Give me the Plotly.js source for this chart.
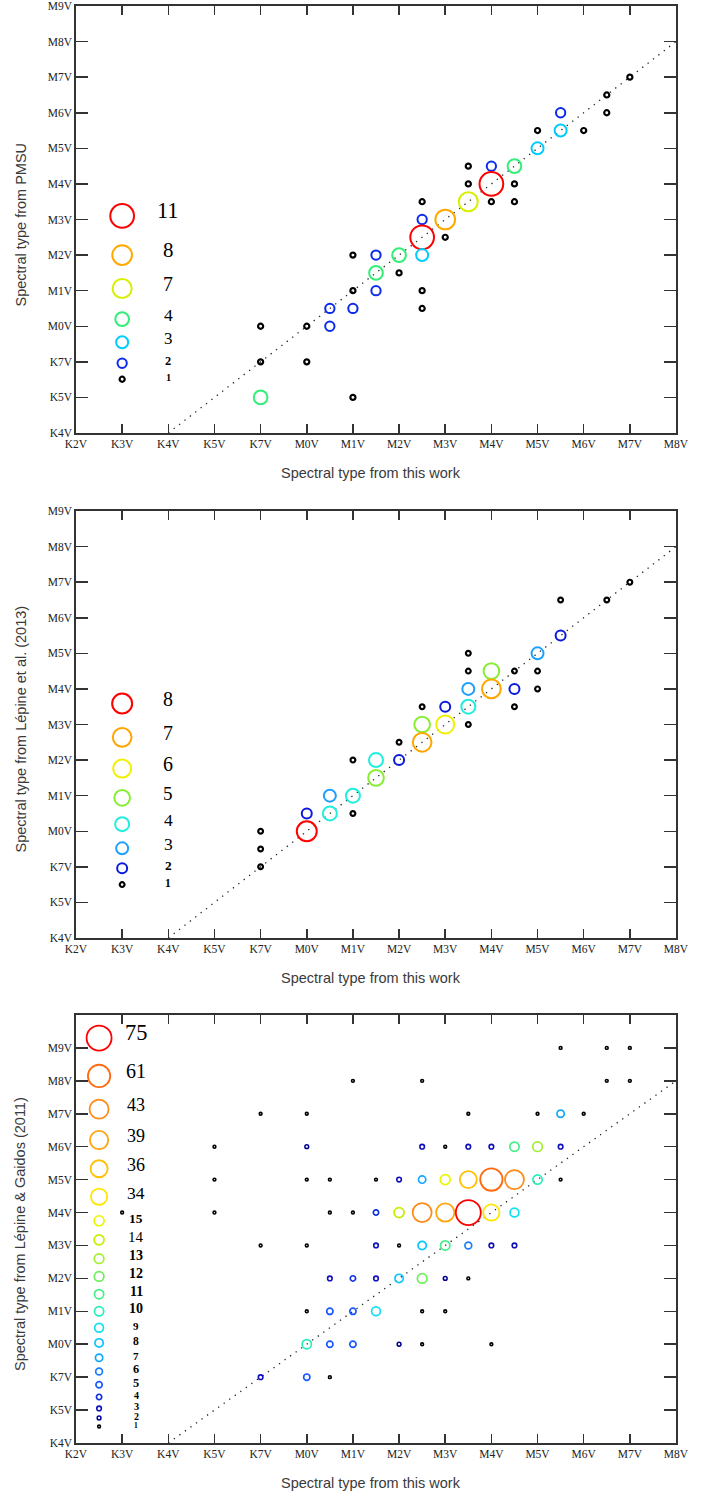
<!DOCTYPE html>
<html><head><meta charset="utf-8">
<script src="https://cdn.plot.ly/plotly-3.0.1.min.js"></script>
<style>html,body{margin:0;padding:0;background:#fff}#chart{width:710px;height:1493px}</style>
</head><body><div id="chart"></div>
<script>
// ================= DATA =================
// Spectral type code: K2=-5, K3=-4, K4=-3, K5=-2, K7=-1, M0=0, M0.5=0.5, M1=1 ... M9=9
const xTickVals = [-5,-4,-3,-2,-1,0,1,2,3,4,5,6,7,8];
const xTickLabels = ['K2V','K3V','K4V','K5V','K7V','M0V','M1V','M2V','M3V','M4V','M5V','M6V','M7V','M8V'];
const yTickVals = [-3,-2,-1,0,1,2,3,4,5,6,7,8,9];
const yTickLabels = ['K4V','K5V','K7V','M0V','M1V','M2V','M3V','M4V','M5V','M6V','M7V','M8V','M9V'];

const xTitle = 'Spectral type from this work';
const yTitles = ['Spectral type from PMSU', 'Spectral type from Lépine et al. (2013)', 'Spectral type from Lépine & Gaidos (2011)'];

// Panel 1: this work vs PMSU (x, y, number of stars)
const pmsuX = [7,6.5,6.5,5.5,5,5.5,6,5,3.5,4,4.5,3.5,4,4.5,2.5,3.5,4,4.5,2.5,3,2.5,3,1,1.5,2,2.5,1.5,2,1,1.5,2.5,1,2.5,1,-1,0,0.5,0.5,-1,0,-1];
const pmsuY = [7,6.5,6,6,5.5,5.5,5.5,5,4.5,4.5,4.5,4,4,4,3.5,3.5,3.5,3.5,3,3,2.5,2.5,2,2,2,2,1.5,1.5,1,1,1,0.5,0.5,-2,0,0,0.5,0,-1,-1,-2];
const pmsuN = [1,1,1,2,1,3,1,3,1,2,4,1,11,1,1,7,1,1,2,8,11,1,1,2,4,3,4,1,1,2,1,2,1,1,1,1,2,2,1,1,4];
const pmsuLegend = [11,8,7,4,3,2,1];

// Panel 2: this work vs Lepine et al. (2013)
const l13X = [7,6.5,5.5,5.5,5,3.5,3.5,4,4.5,5,3.5,4,4.5,5,2.5,3,3.5,4.5,2.5,3,3.5,2,2.5,1,1.5,2,1.5,1,1,0.5,0,0.5,0,-1,-1,-1];
const l13Y = [7,6.5,6.5,5.5,5,5,4.5,4.5,4.5,4.5,4,4,4,4,3.5,3.5,3.5,3.5,3,3,3,2.5,2.5,2,2,2,1.5,1,0.5,1,0.5,0.5,0,0,-0.5,-1];
const l13N = [1,1,1,2,3,1,1,5,1,1,3,7,2,1,1,2,4,1,5,6,1,1,7,1,4,2,5,4,1,3,2,4,8,1,1,1];
const l13Legend = [8,7,6,5,4,3,2,1];

// Panel 3: this work vs Lepine & Gaidos (2011)
const lg11X = [5.5,6.5,7, 1,2.5,6.5,7, -1,0,3.5,5,5.5,6,
  -2,0,2.5,3,3.5,4,4.5,5,5.5,
  -2,0,0.5,1.5,2,2.5,3,3.5,4,4.5,5,5.5,
  -4,-2,0.5,1,1.5,2,2.5,3,3.5,4,4.5,
  -1,0,1.5,2,2.5,3,3.5,4,4.5,
  0.5,1,1.5,2,2.5,3,3.5,
  0,0.5,1,1.5,2.5,3,
  0,0.5,1,2,2.5,4,
  -1,0,0.5];
const lg11Y = [9,9,9, 8,8,8,8, 7,7,7,7,7,7,
  6,6,6,6,6,6,6,6,6,
  5,5,5,5,5,5,5,5,5,5,5,5,
  4,4,4,4,4,4,4,4,4,4,4,
  3,3,3,3,3,3,3,3,3,
  2,2,2,2,2,2,2,
  1,1,1,1,1,1,
  0,0,0,0,0,0,
  -1,-1,-1];
const lg11N = [1,1,1, 1,1,1,1, 1,1,1,1,7,1,
  1,2,3,1,3,3,11,13,3,
  1,1,1,1,3,7,15,36,61,43,10,1,
  1,1,1,1,4,14,43,39,75,34,9,
  1,1,3,1,8,11,6,3,3,
  3,4,3,8,12,2,1,
  1,5,5,9,1,1,
  10,5,5,2,1,1,
  3,5,1];
const lg11Legend = [75,61,43,39,36,34,15,14,13,12,11,10,9,8,7,6,5,4,3,2,1];

// ================= STYLE =================
const FONT_SERIF = 'Liberation Serif, Times New Roman, serif';
const FONT_SANS = 'Liberation Sans, Arial, sans-serif';

const panels = [
  { x: pmsuX, y: pmsuY, n: pmsuN, legend: pmsuLegend, yTop: 9, dom: [1010/1437, 1], title: yTitles[0],
    color: {11:'#ff0000',8:'#ffaa00',7:'#d8f000',4:'#33ee77',3:'#00ccff',2:'#0a2aee',1:'#000000'},
    size:  {11:23.7,8:19.7,7:19,4:13.7,3:12,2:9.3,1:5.1},
    lw:    {11:2,8:2,7:2,4:2,3:2,2:2,1:2.2},
    font:  {11:22.4,8:20.9,7:19.9,4:17.5,3:16.9,2:12.4,1:10.4},
    legX: -4, legTextX: -3,
    legY: [3.1,2.0,1.06,0.2,-0.45,-1.04,-1.49] },
  { x: l13X, y: l13Y, n: l13N, legend: l13Legend, yTop: 9, dom: [505/1437, 932/1437], title: yTitles[1],
    color: {8:'#ff0000',7:'#ffa500',6:'#f0f000',5:'#88ee33',4:'#22eedd',3:'#1ea0ff',2:'#0a1add',1:'#000000'},
    size:  {8:20,7:18.7,6:18,5:15.7,4:14,3:12,2:10,1:4.8},
    lw:    {8:2,7:2,6:2,5:2,4:2,3:2,2:2,1:2.2},
    font:  {8:19.9,7:20,6:19.9,5:19,4:17.5,3:17.5,2:13.4,1:11.5},
    legX: -4, legTextX: -3,
    legY: [3.59,2.64,1.76,0.94,0.2,-0.48,-1.04,-1.5] },
  { x: lg11X, y: lg11Y, n: lg11N, legend: lg11Legend, yTop: 10, dom: [0, 428/1437], title: yTitles[2],
    color: {75:'#ff0000',61:'#ff6a10',43:'#ff8c1a',39:'#ffa510',36:'#ffc000',34:'#ffe600',15:'#e8f800',14:'#c4f000',
            13:'#a0f030',12:'#6cee5a',11:'#44ee88',10:'#28eebb',9:'#10e0f0',8:'#10c4ff',7:'#10a8ff',6:'#1a80ff',
            5:'#1a58ff',4:'#1030dd',3:'#1010bb',2:'#000090',1:'#000000'},
    size:  {75:25,61:22.3,43:19,39:18.3,36:17,34:16.3,15:10,14:10,13:9.6,12:9.6,11:9.3,10:9.3,9:8.8,8:8.3,7:7.3,
            6:6.8,5:6.3,4:5.3,3:4.6,2:3.8,1:2.8},
    lw:    {75:1.8,61:1.8,43:1.8,39:1.8,36:1.8,34:1.8,15:1.7,14:1.7,13:1.7,12:1.7,11:1.7,10:1.7,9:1.7,8:1.7,7:1.7,
            6:1.7,5:1.7,4:1.7,3:1.6,2:1.5,1:1.6},
    font:  {75:22.4,61:20,43:18,39:18,36:18,34:17.5,15:13.4,14:15,13:14,12:14,11:14,10:14,9:11,8:11.5,7:11,
            6:12.4,5:12.4,4:10,3:10.4,2:10,1:7.5},
    legX: -4.5, legTextX: -3.7,
    legY: [9.3,8.15,7.14,6.2,5.33,4.48,3.75,3.17,2.6,2.06,1.52,1.0,0.5,0.04,-0.41,-0.83,-1.23,-1.6,-1.95,-2.24,-2.5] }
];

// ================= BUILD =================
const traces = [];
const annotations = [];
const layout = {
  width: 710, height: 1493,
  margin: {l: 76, r: 34, t: 6, b: 50},
  paper_bgcolor: '#ffffff', plot_bgcolor: '#ffffff',
  showlegend: false,
  font: {family: FONT_SERIF, color: '#222'}
};

const lineLo = yTickVals[0];
const lineHi = xTickVals[xTickVals.length - 1];

function circles(p, xs, ys, counts, xa, ya) {
  return {
    type: 'scatter', mode: 'markers', xaxis: xa, yaxis: ya,
    x: xs, y: ys,
    marker: {
      symbol: 'circle', color: 'rgba(255,255,255,0)', opacity: 1,
      size: counts.map(c => p.size[c]),
      line: {color: counts.map(c => p.color[c]), width: counts.map(c => p.lw[c])}
    },
    cliponaxis: false, hoverinfo: 'skip'
  };
}

panels.forEach((p, i) => {
  const k = i === 0 ? '' : String(i + 1);
  const xa = 'x' + k, ya = 'y' + k;

  // identity line
  traces.push({
    type: 'scatter', mode: 'lines', xaxis: xa, yaxis: ya,
    x: [lineLo, lineHi], y: [lineLo, lineHi],
    line: {color: '#222', width: 1.3, dash: '1.3px,5.5px'}, hoverinfo: 'skip'
  });
  // data points
  traces.push(circles(p, p.x, p.y, p.n, xa, ya));
  // legend circles
  traces.push(circles(p, p.legend.map(() => p.legX), p.legY, p.legend, xa, ya));
  // legend labels
  p.legend.forEach((c, j) => {
    const fs = p.font[c];
    annotations.push({
      xref: xa, yref: ya, x: p.legTextX, y: p.legY[j], text: String(c), showarrow: false,
      xanchor: 'center', yanchor: 'middle', yshift: 0.34 * fs - 2,
      font: {family: FONT_SERIF, size: fs, color: '#000', weight: fs < 15 ? 'bold' : 'normal'}
    });
  });

  layout['xaxis' + k] = {
    domain: [0, 1], anchor: ya, range: [xTickVals[0], xTickVals[xTickVals.length - 1]],
    tickmode: 'array', tickvals: xTickVals, ticktext: xTickLabels,
    ticks: 'inside', ticklen: 9, tickwidth: 1.5, tickcolor: '#333',
    showline: true, linecolor: '#333', linewidth: 1.6, mirror: 'ticks',
    showgrid: false, zeroline: false,
    tickfont: {family: FONT_SERIF, size: 11.5, color: '#222'}
  };
  layout['yaxis' + k] = {
    domain: p.dom, anchor: xa, range: [yTickVals[0], p.yTop],
    tickmode: 'array', tickvals: yTickVals, ticktext: yTickLabels,
    ticks: 'inside', ticklen: 12, tickwidth: 1.5, tickcolor: '#333',
    showline: true, linecolor: '#333', linewidth: 1.6, mirror: 'ticks',
    showgrid: false, zeroline: false,
    tickfont: {family: FONT_SERIF, size: 11.5, color: '#222'}
  };

  // axis titles
  annotations.push({
    xref: xa + ' domain', yref: ya + ' domain', x: 0.5, y: 0, xshift: -5, yshift: -40,
    xanchor: 'center', yanchor: 'middle', showarrow: false, text: xTitle,
    font: {family: FONT_SANS, size: 14.5, color: '#3a3a3a'}
  });
  annotations.push({
    xref: xa + ' domain', yref: ya + ' domain', x: 0, y: 0.5, xshift: -56, yshift: -5,
    xanchor: 'center', yanchor: 'middle', showarrow: false, text: p.title, textangle: -90,
    font: {family: FONT_SANS, size: 14.5, color: '#3a3a3a'}
  });
});

layout.annotations = annotations;
Plotly.newPlot('chart', traces, layout, {displayModeBar: false, staticPlot: true});
</script>
</body></html>
